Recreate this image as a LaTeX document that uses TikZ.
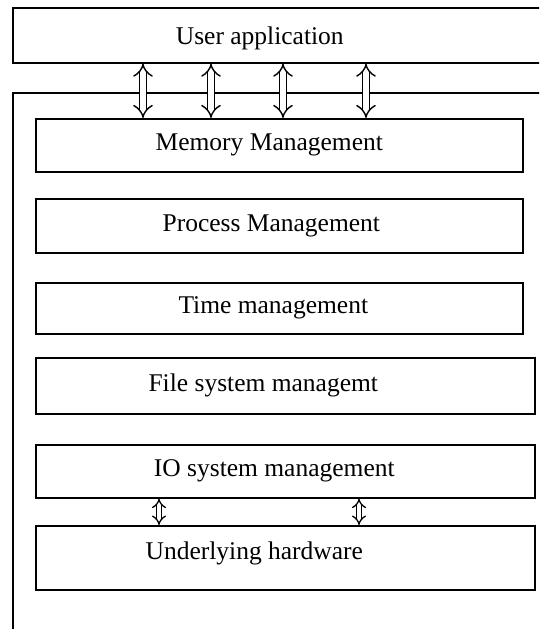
\documentclass[tikz,border=0pt]{standalone}
\usepackage{fontspec}
\setmainfont{Liberation Serif}
\usetikzlibrary{arrows.meta,positioning}

\tikzset{
  layer/.style={draw, line width=1.6pt, anchor=north west, inner sep=0pt},
  caption/.style={font=\fontsize{25.5}{30}\selectfont},
  link/.style={double, double distance=5.5pt, line width=1.4pt,
    {Implies[length=9pt,width=19pt]}-{Implies[length=9pt,width=19pt]}},
  short link/.style={double, double distance=3.5pt, line width=1.3pt,
    {Implies[length=6pt,width=13pt]}-{Implies[length=6pt,width=13pt]}}
}

\begin{document}
\begin{tikzpicture}[x=1pt,y=-1pt]
\clip (0,0) rectangle (539,629);

% kernel frame, runs off the page
\node[layer, minimum width=560, minimum height=580] (kernel) at (12,92) {};

\node[layer, minimum width=560, minimum height=55,
  label={[caption, xshift=-33pt, yshift=-3pt]center:User application}] (user) at (12,7) {};

% managers
\node[layer, minimum width=487, minimum height=53,
  label={[caption, xshift=-10pt]center:Memory Management}] (memory) at (35,118) {};
\node[layer, minimum width=487, minimum height=54,
  label={[caption, xshift=-8pt]center:Process Management}] (process) at (35,198) {};
\node[layer, minimum width=487, minimum height=51,
  label={[caption, xshift=-6pt]center:Time management}] (time) at (35,282) {};
\node[layer, minimum width=499, minimum height=56,
  label={[caption, xshift=-22pt]center:File system managemt}] (files) at (35,357) {};
\node[layer, minimum width=499, minimum height=53,
  label={[caption, xshift=-11pt]center:IO system management}] (io) at (35,444) {};
\node[layer, minimum width=499, minimum height=64,
  label={[caption, xshift=-31pt, yshift=4pt]center:Underlying hardware}] (hardware) at (35,525) {};

% links
\foreach \x in {143,211,283,366}
  \draw[link] (user.south -| \x,0) -- (memory.north -| \x,0);
\foreach \x in {159,359}
  \draw[short link] (io.south -| \x,0) -- (hardware.north -| \x,0);
\end{tikzpicture}
\end{document}
